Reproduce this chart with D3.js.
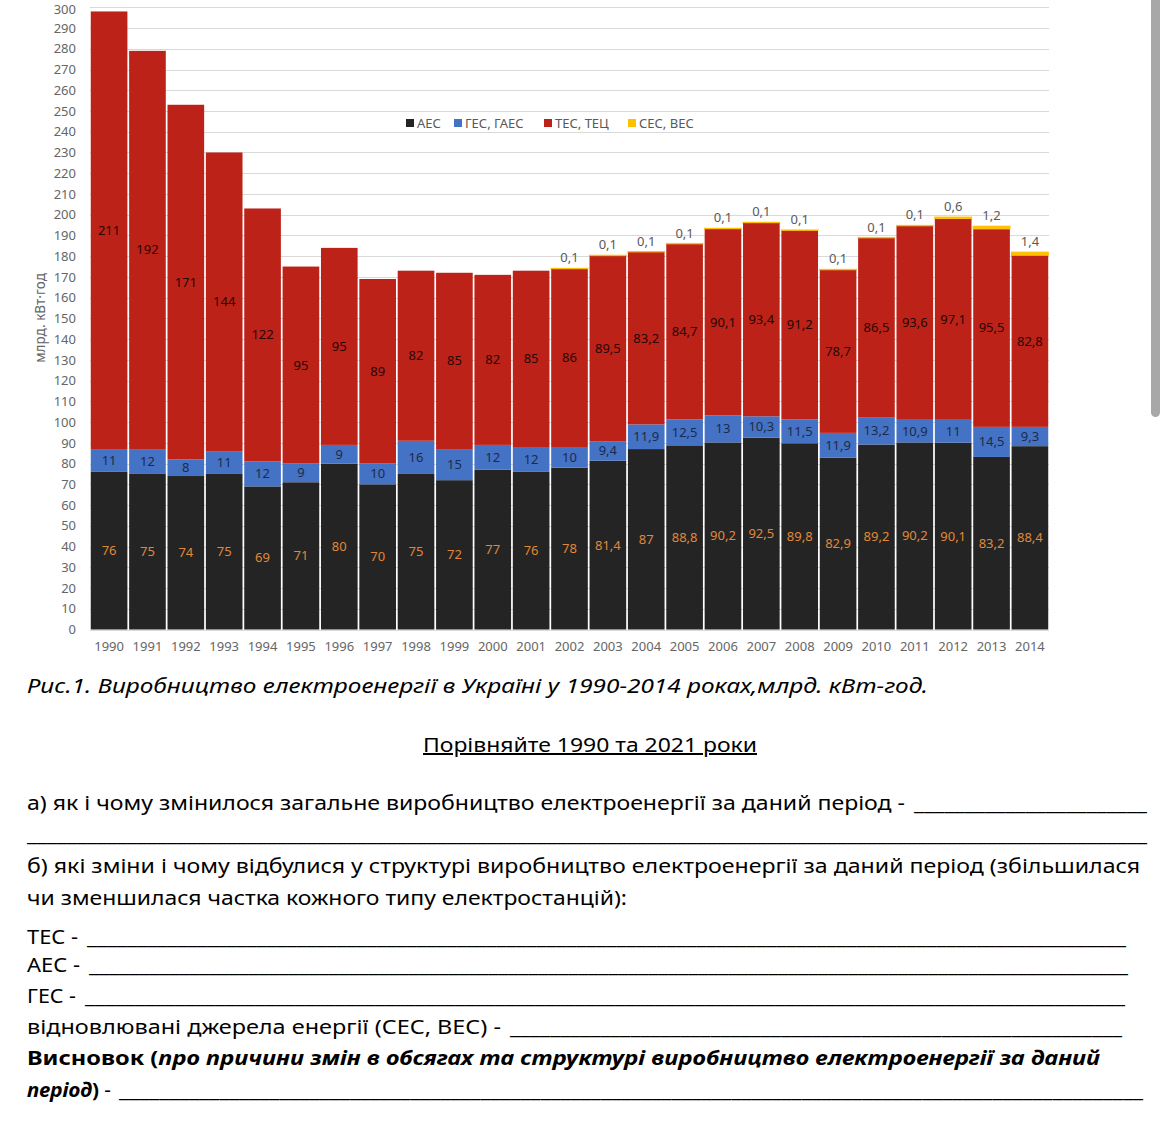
<!DOCTYPE html>
<html lang="uk">
<head>
<meta charset="utf-8">
<script src="https://cdn.jsdelivr.net/npm/d3@7"></script>
<style>
  html, body { margin: 0; padding: 0; background: #fff; }
  svg { display: block; font-family: "Noto Sans", "DejaVu Sans", sans-serif; }
</style>
</head>
<body>
<div id="chart"></div>
<script>
const years = ["1990","1991","1992","1993","1994","1995","1996","1997","1998","1999","2000","2001","2002",
               "2003","2004","2005","2006","2007","2008","2009","2010","2011","2012","2013","2014"];
const aes = [76,75,74,75,69,71,80,70,75,72,77,76,78,81.4,87,88.8,90.2,92.5,89.8,82.9,89.2,90.2,90.1,83.2,88.4];
const ges = [11,12,8,11,12,9,9,10,16,15,12,12,10,9.4,11.9,12.5,13,10.3,11.5,11.9,13.2,10.9,11,14.5,9.3];
const tes = [211,192,171,144,122,95,95,89,82,85,82,85,86,89.5,83.2,84.7,90.1,93.4,91.2,78.7,86.5,93.6,97.1,95.5,82.8];
const ses = [0,0,0,0,0,0,0,0,0,0,0,0,0.1,0.1,0.1,0.1,0.1,0.1,0.1,0.1,0.1,0.1,0.6,1.2,1.4];
const seriesNames = ["АЕС", "ГЕС, ГАЕС", "ТЕС, ТЕЦ", "СЕС, ВЕС"];
const yTicks = d3.range(0, 301, 10);

const W = 1170, H = 1142;
const svg = d3.select("#chart").append("svg").attr("width", W).attr("height", H);

const x = d3.scaleBand().domain(years).range([90, 1049]).paddingInner(0.045).paddingOuter(0.02);
const y = d3.scaleLinear().domain([0, 300]).range([629.5, 7.3]);

const colors = ["#242424", "#4472c4", "#bd2218", "#ffc000"];
const labelColors = ["#e0883a", "#1d2b4a", "#260606", "#595959"];
const fmt = v => String(v).replace(".", ",");

// gridlines
svg.append("g").selectAll("line")
    .data(yTicks)
    .enter().append("line")
    .attr("x1", 90).attr("x2", 1049)
    .attr("y1", d => Math.round(y(d)) + 0.5).attr("y2", d => Math.round(y(d)) + 0.5)
    .attr("stroke", "#d9d9d9").attr("stroke-width", 1);

// y axis labels
let yAxis = svg.append("g").attr("transform", "translate(82,0)")
    .call(d3.axisLeft(y).tickValues(yTicks).tickSize(0).tickPadding(6));
yAxis.select(".domain").remove();
yAxis.selectAll("text").attr("font-size", 13).attr("fill", "#666").attr("font-family", "Noto Sans");
// top label sits at the page edge, nudge it so it stays whole
yAxis.selectAll("text").filter(d => d === 300).attr("dy", "0.5em");

svg.append("text")
    .attr("transform", "translate(45,318) rotate(-90)")
    .attr("text-anchor", "middle")
    .attr("font-size", 13.5).attr("fill", "#666")
    .text("млрд. кВт·год");

// x axis labels
let xAxis = svg.append("g").attr("transform", "translate(0,640)")
    .call(d3.axisBottom(x).tickSize(0).tickPadding(2));
xAxis.select(".domain").remove();
xAxis.selectAll("text").attr("font-size", 13).attr("fill", "#666").attr("font-family", "Noto Sans");

// stacked data
const table = years.map((yr, i) => ({year: yr, s0: aes[i], s1: ges[i], s2: tes[i], s3: ses[i]}));
const stack = d3.stack().keys(["s0", "s1", "s2", "s3"])(table);

const layers = svg.append("g").selectAll("g")
    .data(stack)
    .enter().append("g")
    .attr("fill", (d, i) => colors[i]);

layers.selectAll("rect")
    .data(d => d.filter(p => p[1] - p[0] > 0))
    .enter().append("rect")
    .attr("x", d => x(d.data.year))
    .attr("width", x.bandwidth())
    .attr("y", d => y(d[1]))
    .attr("height", d => y(d[0]) - y(d[1]));

// thin renewable slices get a stroke so they stay visible
layers.filter((d, i) => i === 3).selectAll("rect")
    .attr("stroke", colors[3]).attr("stroke-width", 1.2);

// value labels
stack.forEach((layer, i) => {
    let pts = layer.filter(p => p[1] - p[0] > 0);
    svg.append("g").selectAll("text")
        .data(pts)
        .enter().append("text")
        .attr("x", d => x(d.data.year) + x.bandwidth() / 2)
        .attr("y", d => i === 3 ? y(d[1]) - 6 : y((d[0] + d[1]) / 2) + 4.5)
        .attr("text-anchor", "middle")
        .attr("font-size", 13)
        .attr("fill", labelColors[i])
        .text(d => fmt(+(d[1] - d[0]).toFixed(1)));
});

// legend
const legX = [406, 454, 544, 628];
const leg = svg.append("g").selectAll("g")
    .data(seriesNames)
    .enter().append("g")
    .attr("transform", (d, i) => "translate(" + legX[i] + ",123)");
leg.append("rect").attr("x", 0).attr("y", -4).attr("width", 8).attr("height", 8)
    .attr("fill", (d, i) => colors[i]);
leg.append("text").attr("x", 11).attr("y", 4.5)
    .attr("font-size", 13).attr("fill", "#595959").text(d => d);

// scrollbar of the screenshot
svg.append("rect").attr("x", 1151).attr("y", -6).attr("width", 9).attr("height", 423)
    .attr("rx", 4.5).attr("fill", "#a8a8a8");

// text under the chart
const body = svg.append("g").attr("fill", "#000").attr("font-size", 20);

function line(txt, x0, x1, yy, opts) {
    let t = body.append("text").attr("x", x0).attr("y", yy)
        .attr("textLength", x1 - x0).attr("lengthAdjust", "spacingAndGlyphs");
    if (opts && opts.italic) t.attr("font-style", "italic");
    if (opts && opts.bold) t.attr("font-weight", "bold");
    t.text(txt);
    return t;
}
function blank(x0, x1, yy) {
    let n = Math.round((x1 - x0) / 10);
    return line("_".repeat(n), x0, x1, yy);
}

line("Рис.1. Виробництво електроенергії в Україні у 1990-2014 роках,млрд. кВт-год.", 27, 928, 693, {italic: true});
line("Порівняйте 1990 та 2021 роки", 423, 757, 752).attr("text-decoration", "underline");

line("а) як і чому змінилося загальне виробництво електроенергії за даний період -", 27, 905, 810);
blank(914, 1147, 810);
blank(27, 1147, 841);
line("б) які зміни і чому відбулися у структурі виробництво електроенергії за даний період (збільшилася", 27, 1140, 873);
line("чи зменшилася частка кожного типу електростанцій):", 27, 627, 905);

line("ТЕС -", 27, 78, 944);
blank(87, 1126, 944);
line("АЕС -", 27, 80, 972);
blank(89, 1128, 972);
line("ГЕС -", 27, 76, 1003);
blank(85, 1125, 1003);
line("відновлювані джерела енергії (СЕС, ВЕС) -", 27, 501, 1034);
blank(510, 1122, 1034);

let concl = body.append("text").attr("x", 27).attr("y", 1065)
    .attr("textLength", 1073).attr("lengthAdjust", "spacingAndGlyphs")
    .attr("font-weight", "bold");
concl.append("tspan").text("Висновок (");
concl.append("tspan").attr("font-style", "italic")
    .text("про причини змін в обсягах та структурі виробництво електроенергії за даний");

let per = body.append("text").attr("x", 27).attr("y", 1097)
    .attr("textLength", 84).attr("lengthAdjust", "spacingAndGlyphs");
per.append("tspan").attr("font-weight", "bold").attr("font-style", "italic").text("період");
per.append("tspan").attr("font-weight", "bold").text(")");
per.append("tspan").text(" -");
blank(119, 1143, 1097);
</script>
</body>
</html>
